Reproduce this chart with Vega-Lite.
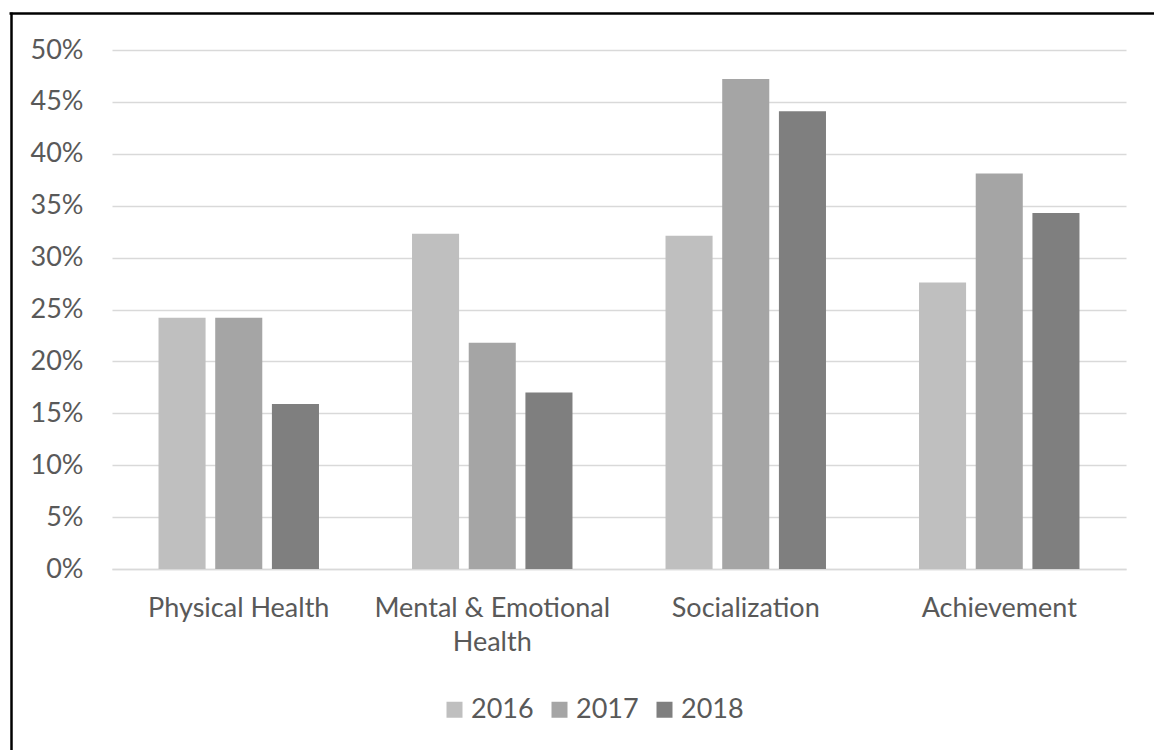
{
  "$schema": "https://vega.github.io/schema/vega-lite/v6.json",
  "width": 1014,
  "height": 519,
  "autosize": {"type": "none"},
  "padding": {"left": 112, "top": 50, "right": 28, "bottom": 181},
  "background": "white",
  "data": {
    "values": [
      {"category": "Physical Health", "year": "2016", "value": 0.242},
      {"category": "Physical Health", "year": "2017", "value": 0.242},
      {"category": "Physical Health", "year": "2018", "value": 0.159},
      {"category": "Mental & Emotional Health", "year": "2016", "value": 0.323},
      {"category": "Mental & Emotional Health", "year": "2017", "value": 0.218},
      {"category": "Mental & Emotional Health", "year": "2018", "value": 0.170},
      {"category": "Socialization", "year": "2016", "value": 0.321},
      {"category": "Socialization", "year": "2017", "value": 0.472},
      {"category": "Socialization", "year": "2018", "value": 0.441},
      {"category": "Achievement", "year": "2016", "value": 0.276},
      {"category": "Achievement", "year": "2017", "value": 0.381},
      {"category": "Achievement", "year": "2018", "value": 0.343}
    ]
  },
  "layer": [
    {
      "mark": {"type": "bar"},
      "encoding": {
        "x": {
          "field": "category",
          "type": "nominal",
          "sort": ["Physical Health", "Mental & Emotional Health", "Socialization", "Achievement"],
          "scale": {"paddingInner": 0.367, "paddingOuter": 0.1835},
          "axis": {
            "title": null,
            "labelAngle": 0,
            "ticks": false,
            "domain": true,
            "domainColor": "#d9d9d9",
            "domainWidth": 1.5,
            "labelFont": "Lato",
            "labelFontSize": 27,
            "labelColor": "#595959",
            "labelPadding": 26,
            "labelLineHeight": 34,
            "labelBaseline": "top",
            "labelLimit": 500,
            "labelExpr": "datum.label == 'Mental & Emotional Health' ? ['Mental & Emotional', 'Health'] : datum.label"
          }
        },
        "xOffset": {
          "field": "year",
          "type": "nominal",
          "scale": {"paddingInner": 0.17, "paddingOuter": 0}
        },
        "y": {
          "field": "value",
          "type": "quantitative",
          "scale": {"domain": [0, 0.5], "nice": false},
          "axis": {
            "title": null,
            "format": ".0%",
            "values": [0, 0.05, 0.1, 0.15, 0.2, 0.25, 0.3, 0.35, 0.4, 0.45, 0.5],
            "domain": false,
            "ticks": false,
            "grid": true,
            "gridColor": "#d9d9d9",
            "gridWidth": 1.5,
            "labelFont": "Lato",
            "labelFontSize": 27,
            "labelColor": "#595959",
            "labelPadding": 29
          }
        },
        "color": {
          "field": "year",
          "type": "nominal",
          "scale": {"domain": ["2016", "2017", "2018"], "range": ["#bfbfbf", "#a5a5a5", "#7f7f7f"]},
          "legend": {
            "title": null,
            "orient": "none",
            "legendX": 329,
            "legendY": 646,
            "direction": "horizontal",
            "symbolType": "square",
            "symbolSize": 256,
            "symbolStrokeWidth": 0,
            "labelFont": "Lato",
            "labelFontSize": 27,
            "labelColor": "#595959",
            "labelOffset": 3,
            "columnPadding": 12
          }
        }
      }
    },
    {
      "data": {"values": [{"frame": 0}]},
      "mark": {"type": "point", "opacity": 0},
      "encoding": {
        "x": {
          "field": "frame",
          "type": "quantitative",
          "scale": {"domain": [0, 1], "range": [-103, 1100]},
          "axis": {
            "orient": "top",
            "offset": 37,
            "title": null,
            "labels": false,
            "ticks": false,
            "grid": false,
            "domain": true,
            "domainColor": "#000000",
            "domainWidth": 2.5
          }
        },
        "y": {
          "field": "frame",
          "type": "quantitative",
          "scale": {"domain": [0, 1], "range": [800, -38]},
          "axis": {
            "orient": "left",
            "offset": 101,
            "title": null,
            "labels": false,
            "ticks": false,
            "grid": false,
            "domain": true,
            "domainColor": "#000000",
            "domainWidth": 2.5
          }
        }
      }
    }
  ],
  "resolve": {"scale": {"x": "independent", "y": "independent"}, "axis": {"x": "independent", "y": "independent"}},
  "config": {"view": {"stroke": null}}
}
